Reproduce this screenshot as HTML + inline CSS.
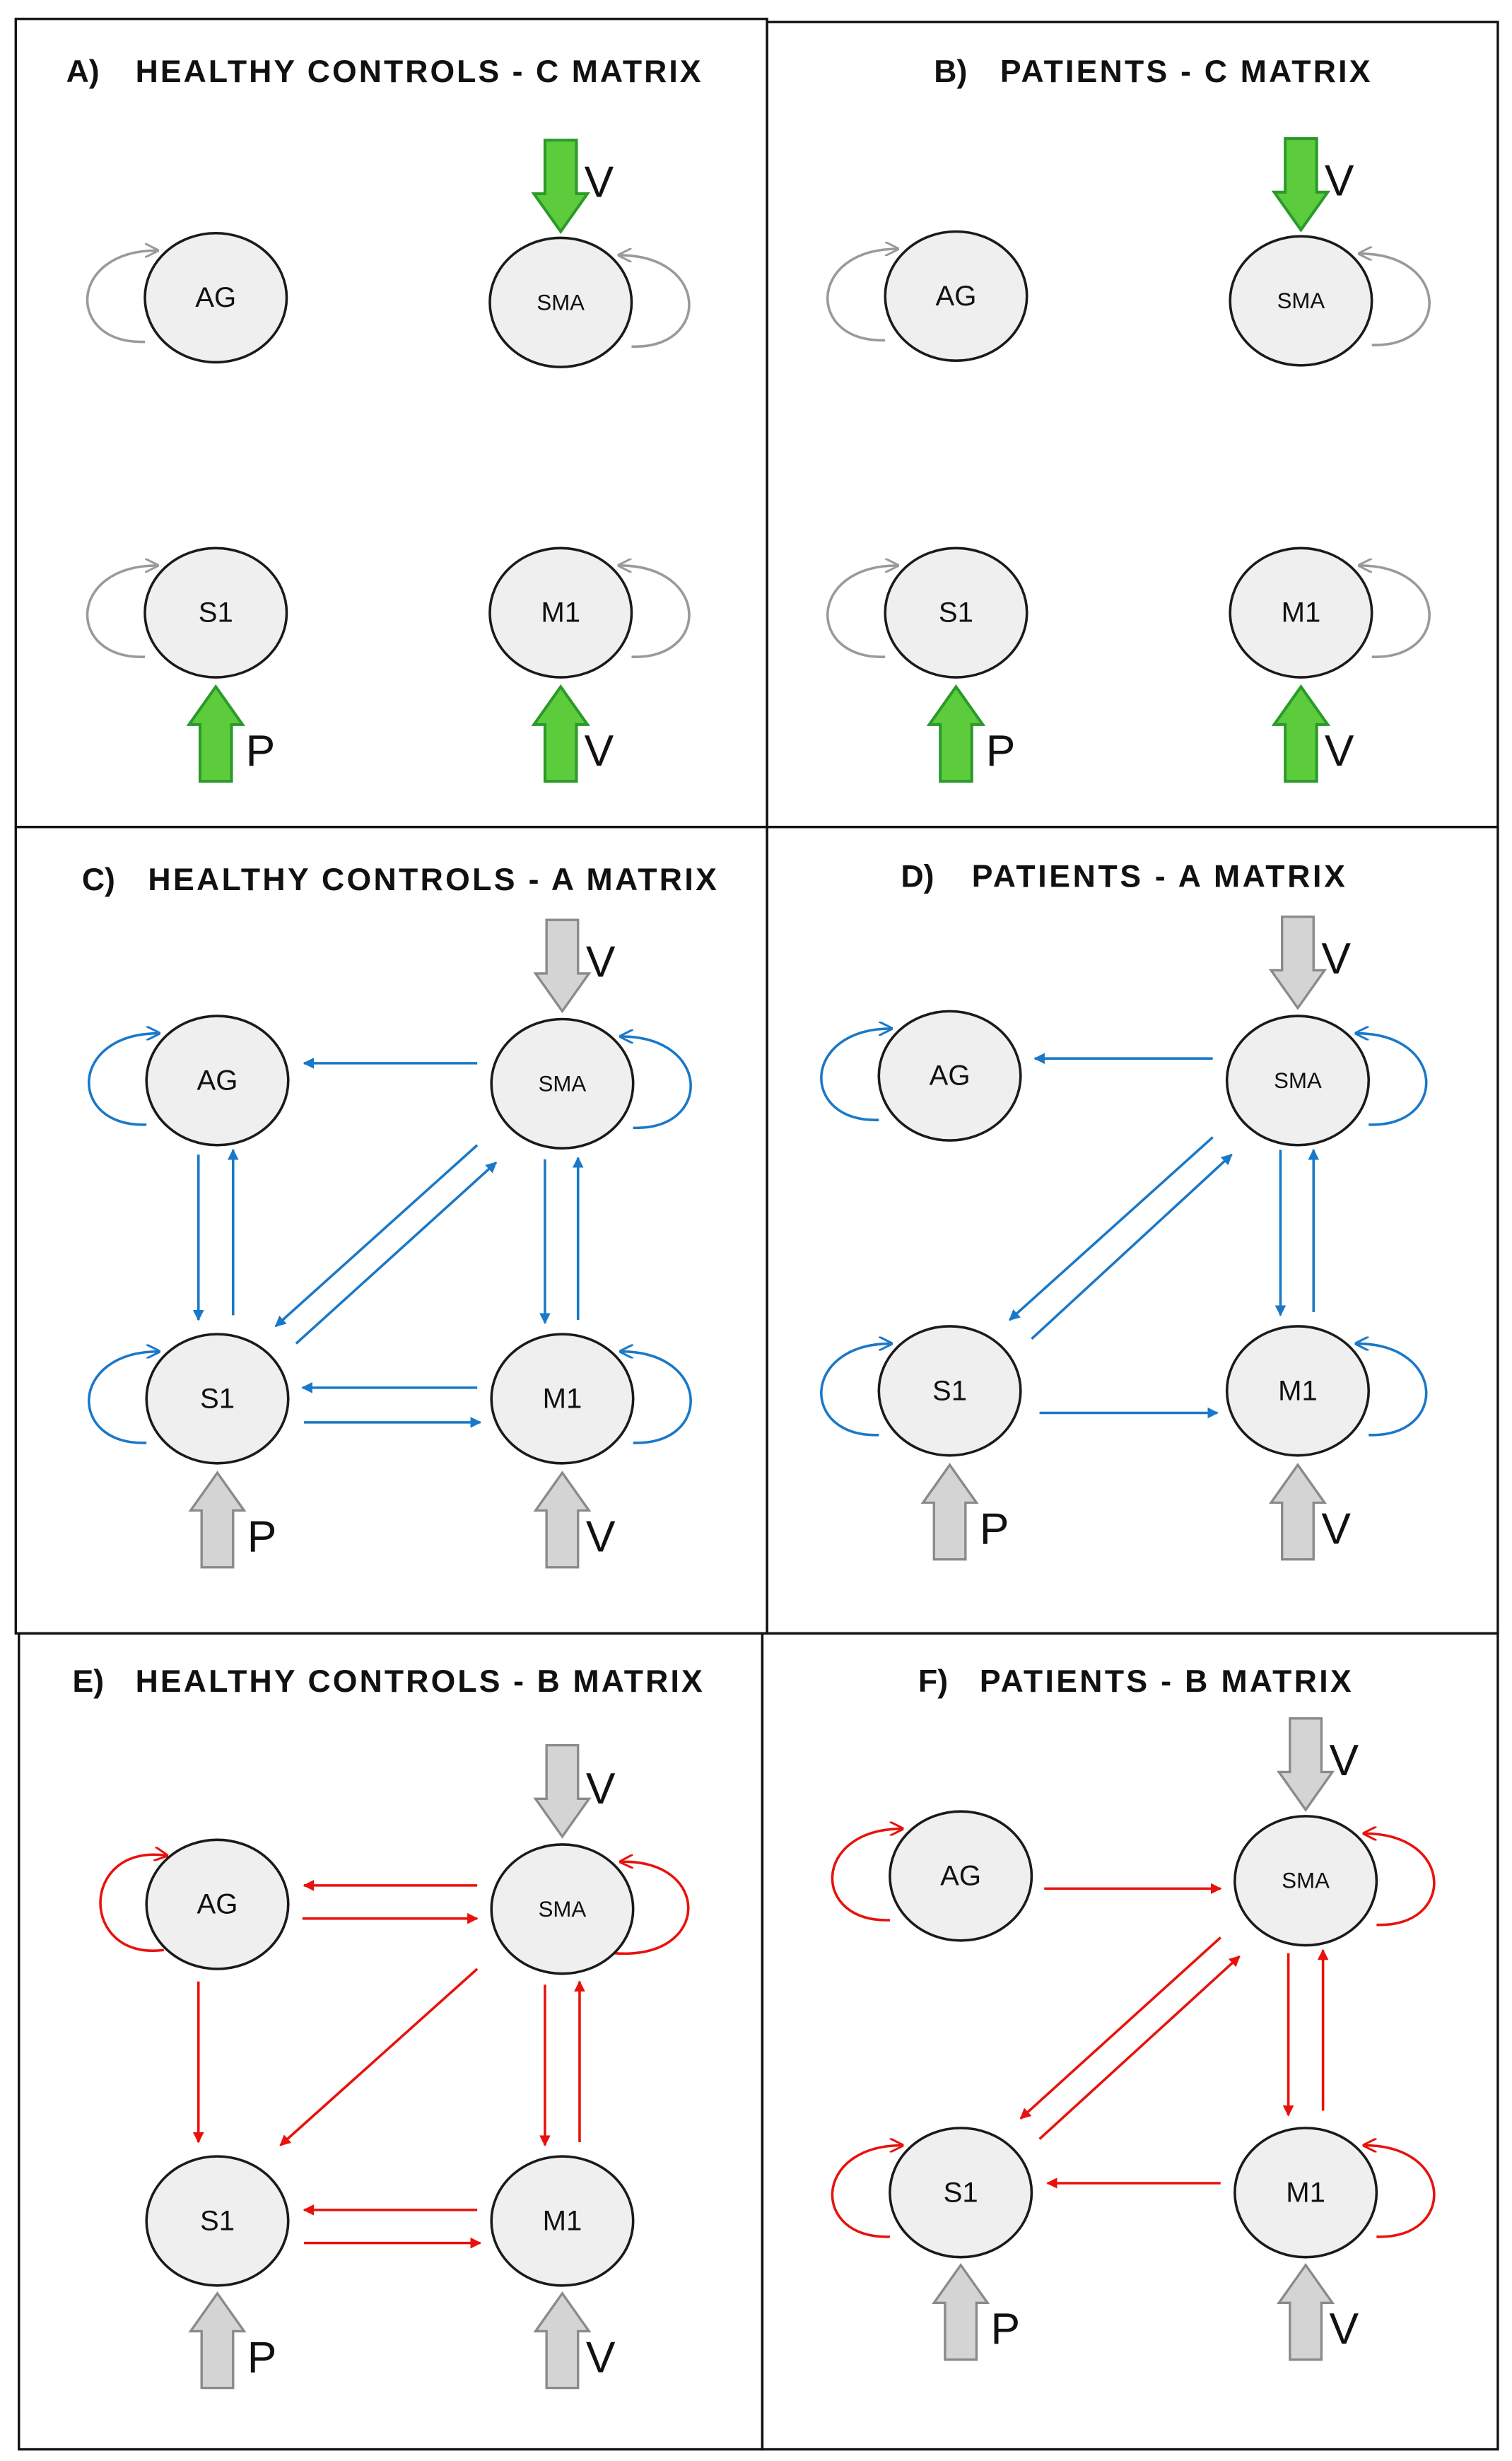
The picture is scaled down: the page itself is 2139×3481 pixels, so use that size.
<!DOCTYPE html>
<html><head><meta charset="utf-8"><style>
html,body{margin:0;padding:0;background:#fff}
svg{display:block}
text{font-family:"Liberation Sans",sans-serif}
.t{font-weight:bold;font-size:20px;fill:#111}
.n{font-size:18px;fill:#111;text-anchor:middle;dominant-baseline:central}
.s{font-size:14px}
.lb{font-size:28px;fill:#111}
.b{stroke:#1a78c8;stroke-width:1.6;fill:none}
.r{stroke:#e8120c;stroke-width:1.6;fill:none}
.g{stroke:#9a9a9a;stroke-width:1.6;fill:none}
</style></head><body>
<svg width="2139" height="3481" viewBox="0 0 960 1562.4" preserveAspectRatio="none" xmlns="http://www.w3.org/2000/svg">
<defs>
<marker id="mb" viewBox="0 0 10 10" refX="9" refY="5" markerWidth="7" markerHeight="7" orient="auto" markerUnits="userSpaceOnUse"><path d="M0,0 L10,5 L0,10 z" fill="#1a78c8"/></marker>
<marker id="mr" viewBox="0 0 10 10" refX="9" refY="5" markerWidth="7" markerHeight="7" orient="auto" markerUnits="userSpaceOnUse"><path d="M0,0 L10,5 L0,10 z" fill="#e8120c"/></marker>
<marker id="mg" viewBox="0 0 10 10" refX="9" refY="5" markerWidth="9" markerHeight="9" orient="auto" markerUnits="userSpaceOnUse"><path d="M0,0 L10,5 L0,10" fill="none" stroke="#9a9a9a" stroke-width="1.5"/></marker>
<marker id="mbo" viewBox="0 0 10 10" refX="9" refY="5" markerWidth="9" markerHeight="9" orient="auto" markerUnits="userSpaceOnUse"><path d="M0,0 L10,5 L0,10" fill="none" stroke="#1a78c8" stroke-width="1.5"/></marker>
<marker id="mro" viewBox="0 0 10 10" refX="9" refY="5" markerWidth="9" markerHeight="9" orient="auto" markerUnits="userSpaceOnUse"><path d="M0,0 L10,5 L0,10" fill="none" stroke="#e8120c" stroke-width="1.5"/></marker>
<symbol id="down" overflow="visible"><path d="M-10,0 L10,0 L10,34 L17,34 L0,58 L-17,34 L-10,34 Z"/></symbol>
<symbol id="up" overflow="visible"><path d="M-10,60 L10,60 L10,24 L17,24 L0,0 L-17,24 L-10,24 Z"/></symbol>
</defs>
<rect width="960" height="1562.4" fill="#fff"/>
<g fill="none" stroke="#111" stroke-width="1.5">
<rect x="10" y="12" width="477" height="513"/>
<rect x="487" y="14" width="464" height="511"/>
<rect x="10" y="525" width="477" height="512"/>
<rect x="487" y="525" width="464" height="512"/>
<rect x="12" y="1037" width="472" height="518"/>
<rect x="484" y="1037" width="467" height="518"/>
</g>
<g class="t">
<text x="42" y="52">A)</text><text x="86" y="52" textLength="359" lengthAdjust="spacing">HEALTHY CONTROLS - C MATRIX</text>
<text x="593" y="52">B)</text><text x="635" y="52" textLength="235" lengthAdjust="spacing">PATIENTS - C MATRIX</text>
<text x="52" y="565">C)</text><text x="94" y="565" textLength="361" lengthAdjust="spacing">HEALTHY CONTROLS - A MATRIX</text>
<text x="572" y="563">D)</text><text x="617" y="563" textLength="237" lengthAdjust="spacing">PATIENTS - A MATRIX</text>
<text x="46" y="1074">E)</text><text x="86" y="1074" textLength="360" lengthAdjust="spacing">HEALTHY CONTROLS - B MATRIX</text>
<text x="583" y="1074">F)</text><text x="622" y="1074" textLength="236" lengthAdjust="spacing">PATIENTS - B MATRIX</text>
</g>

<g fill="#5dcc3c" stroke="#2a9a2a" stroke-width="1.8">
<use href="#down" x="356" y="89"/><use href="#up" x="137" y="436"/><use href="#up" x="356" y="436"/>
<use href="#down" x="826" y="88"/><use href="#up" x="607" y="436"/><use href="#up" x="826" y="436"/>
</g>
<g fill="#d4d4d4" stroke="#8a8a8a" stroke-width="1.5">
<use href="#down" x="357" y="584"/><use href="#up" x="138" y="935"/><use href="#up" x="357" y="935"/>
<use href="#down" x="824" y="582"/><use href="#up" x="603" y="930"/><use href="#up" x="824" y="930"/>
<use href="#down" x="357" y="1108"/><use href="#up" x="138" y="1456"/><use href="#up" x="357" y="1456"/>
<use href="#down" x="829" y="1091"/><use href="#up" x="610" y="1438"/><use href="#up" x="829" y="1438"/>
</g>
<g class="lb">
<text x="371" y="125">V</text><text x="156" y="486">P</text><text x="371" y="486">V</text>
<text x="841" y="124">V</text><text x="626" y="486">P</text><text x="841" y="486">V</text>
<text x="372" y="620">V</text><text x="157" y="985">P</text><text x="372" y="985">V</text>
<text x="839" y="618">V</text><text x="622" y="980">P</text><text x="839" y="980">V</text>
<text x="372" y="1145">V</text><text x="157" y="1506">P</text><text x="372" y="1506">V</text>
<text x="844" y="1127">V</text><text x="629" y="1488">P</text><text x="844" y="1488">V</text>
</g>

<g class="g" marker-end="url(#mg)">
<path d="M92,217 C42,219 42,159 100,159"/>
<path d="M401,220 C451,222 451,162 393,162"/>
<path d="M92,417 C42,419 42,359 100,359"/>
<path d="M401,417 C451,419 451,359 393,359"/>
<path d="M562,216 C512,218 512,158 570,158"/>
<path d="M871,219 C921,221 921,161 863,161"/>
<path d="M562,417 C512,419 512,359 570,359"/>
<path d="M871,417 C921,419 921,359 863,359"/>
</g>
<g class="b" marker-end="url(#mbo)">
<path d="M93,714 C43,716 43,656 101,656"/>
<path d="M402,716 C452,718 452,658 394,658"/>
<path d="M93,916 C43,918 43,858 101,858"/>
<path d="M402,916 C452,918 452,858 394,858"/>
<path d="M558,711 C508,713 508,653 566,653"/>
<path d="M869,714 C919,716 919,656 861,656"/>
<path d="M558,911 C508,913 508,853 566,853"/>
<path d="M869,911 C919,913 919,853 861,853"/>
</g>
<g class="r" marker-end="url(#mro)">
<path d="M104,1238 C50,1245 50,1170 106,1178"/>
<path d="M390,1240 C452,1245 452,1180 394,1182"/>
<path d="M565,1219 C515,1221 515,1161 573,1161"/>
<path d="M874,1222 C924,1224 924,1164 866,1164"/>
<path d="M565,1420 C515,1422 515,1362 573,1362"/>
<path d="M874,1420 C924,1422 924,1362 866,1362"/>
</g>

<g class="b" marker-end="url(#mb)">
<line x1="303" y1="675" x2="193" y2="675"/>
<line x1="126" y1="733" x2="126" y2="838"/>
<line x1="148" y1="835" x2="148" y2="730"/>
<line x1="346" y1="736" x2="346" y2="840"/>
<line x1="367" y1="838" x2="367" y2="735"/>
<line x1="303" y1="727" x2="175" y2="842"/>
<line x1="188" y1="853" x2="315" y2="738"/>
<line x1="303" y1="881" x2="192" y2="881"/>
<line x1="193" y1="903" x2="305" y2="903"/>
<line x1="770" y1="672" x2="657" y2="672"/>
<line x1="770" y1="722" x2="641" y2="838"/>
<line x1="655" y1="850" x2="782" y2="733"/>
<line x1="813" y1="730" x2="813" y2="835"/>
<line x1="834" y1="833" x2="834" y2="730"/>
<line x1="660" y1="897" x2="773" y2="897"/>
</g>
<g class="r" marker-end="url(#mr)">
<line x1="303" y1="1197" x2="193" y2="1197"/>
<line x1="192" y1="1218" x2="303" y2="1218"/>
<line x1="126" y1="1258" x2="126" y2="1360"/>
<line x1="303" y1="1250" x2="178" y2="1362"/>
<line x1="346" y1="1260" x2="346" y2="1362"/>
<line x1="368" y1="1360" x2="368" y2="1258"/>
<line x1="303" y1="1403" x2="193" y2="1403"/>
<line x1="193" y1="1424" x2="305" y2="1424"/>
<line x1="663" y1="1199" x2="775" y2="1199"/>
<line x1="775" y1="1230" x2="648" y2="1345"/>
<line x1="660" y1="1358" x2="787" y2="1242"/>
<line x1="818" y1="1240" x2="818" y2="1343"/>
<line x1="840" y1="1340" x2="840" y2="1238"/>
<line x1="775" y1="1386" x2="665" y2="1386"/>
</g>

<g fill="#efefef" stroke="#1a1a1a" stroke-width="1.6">
<ellipse cx="137" cy="189" rx="45" ry="41"/><ellipse cx="356" cy="192" rx="45" ry="41"/>
<ellipse cx="137" cy="389" rx="45" ry="41"/><ellipse cx="356" cy="389" rx="45" ry="41"/>
<ellipse cx="607" cy="188" rx="45" ry="41"/><ellipse cx="826" cy="191" rx="45" ry="41"/>
<ellipse cx="607" cy="389" rx="45" ry="41"/><ellipse cx="826" cy="389" rx="45" ry="41"/>
<ellipse cx="138" cy="686" rx="45" ry="41"/><ellipse cx="357" cy="688" rx="45" ry="41"/>
<ellipse cx="138" cy="888" rx="45" ry="41"/><ellipse cx="357" cy="888" rx="45" ry="41"/>
<ellipse cx="603" cy="683" rx="45" ry="41"/><ellipse cx="824" cy="686" rx="45" ry="41"/>
<ellipse cx="603" cy="883" rx="45" ry="41"/><ellipse cx="824" cy="883" rx="45" ry="41"/>
<ellipse cx="138" cy="1209" rx="45" ry="41"/><ellipse cx="357" cy="1212" rx="45" ry="41"/>
<ellipse cx="138" cy="1410" rx="45" ry="41"/><ellipse cx="357" cy="1410" rx="45" ry="41"/>
<ellipse cx="610" cy="1191" rx="45" ry="41"/><ellipse cx="829" cy="1194" rx="45" ry="41"/>
<ellipse cx="610" cy="1392" rx="45" ry="41"/><ellipse cx="829" cy="1392" rx="45" ry="41"/>
</g>
<g class="n">
<text x="137" y="189">AG</text><text class="s" x="356" y="192">SMA</text><text x="137" y="389">S1</text><text x="356" y="389">M1</text>
<text x="607" y="188">AG</text><text class="s" x="826" y="191">SMA</text><text x="607" y="389">S1</text><text x="826" y="389">M1</text>
<text x="138" y="686">AG</text><text class="s" x="357" y="688">SMA</text><text x="138" y="888">S1</text><text x="357" y="888">M1</text>
<text x="603" y="683">AG</text><text class="s" x="824" y="686">SMA</text><text x="603" y="883">S1</text><text x="824" y="883">M1</text>
<text x="138" y="1209">AG</text><text class="s" x="357" y="1212">SMA</text><text x="138" y="1410">S1</text><text x="357" y="1410">M1</text>
<text x="610" y="1191">AG</text><text class="s" x="829" y="1194">SMA</text><text x="610" y="1392">S1</text><text x="829" y="1392">M1</text>
</g>
</svg>
</body></html>
